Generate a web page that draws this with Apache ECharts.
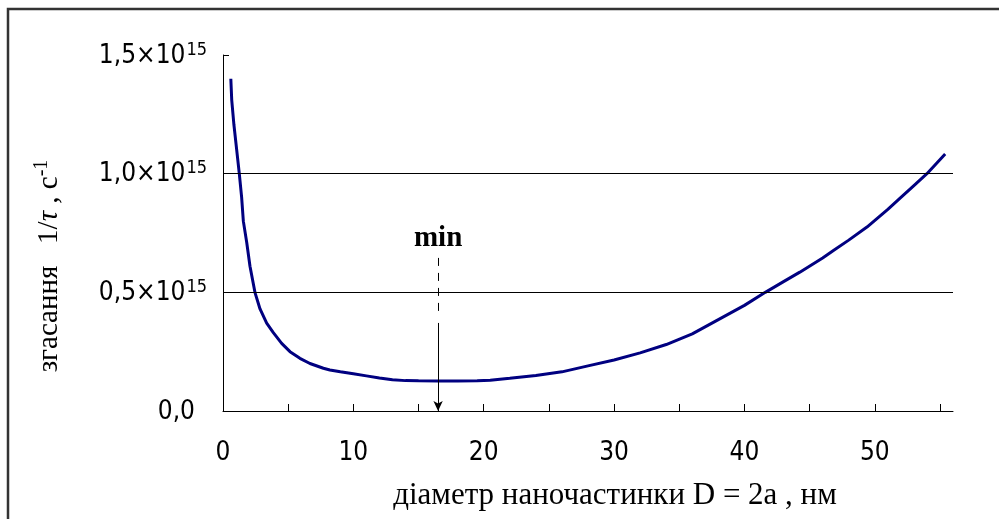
<!DOCTYPE html>
<html>
<head>
<meta charset="utf-8">
<script src="https://cdn.jsdelivr.net/npm/echarts@6/dist/echarts.min.js"></script>
<style>
html,body{margin:0;padding:0;background:#fff;overflow:hidden;}
#chart{width:999px;height:519px;}
</style>
</head>
<body>
<div id="chart"></div>
<script>
// Nanoparticle diameter D = 2a, nm
var diameterNm = [0.6, 0.67, 0.84, 1.05, 1.25, 1.43, 1.56, 1.82, 2.07, 2.45, 2.84, 3.35, 3.86, 4.5, 5.14, 5.9, 6.67, 7.7, 8.2, 9, 10, 11, 12, 13, 14, 15, 16.5, 18, 19.5, 20.5, 22, 24, 26, 28, 30, 32, 34, 36, 38, 40, 41.6, 43, 44.25, 46, 46.8, 48, 49.4, 51, 51.9, 53, 54, 55.4];
// Damping rate 1/tau, in units of 10^15 s^-1
var dampingRate = [1.40, 1.31, 1.205, 1.10, 1.00, 0.90, 0.80, 0.71, 0.61, 0.50, 0.43, 0.37, 0.33, 0.285, 0.25, 0.222, 0.20, 0.18, 0.173, 0.165, 0.157, 0.148, 0.139, 0.132, 0.128, 0.127, 0.126, 0.126, 0.127, 0.13, 0.138, 0.15, 0.165, 0.19, 0.215, 0.245, 0.28, 0.325, 0.385, 0.445, 0.50, 0.545, 0.585, 0.645, 0.675, 0.72, 0.775, 0.85, 0.895, 0.95, 1.0, 1.083];
// Axis ticks
var xTickValues = [0, 5, 10, 15, 20, 25, 30, 35, 40, 45, 50, 55];
var xLabelValues = [0, 10, 20, 30, 40, 50];
var yTickValues = [0, 0.5, 1.0, 1.5];
var yTickLabels = ['0,0', '0,5', '1,0', '1,5'];
var yExponent = '15';
var gridLineValues = [0.5, 1.0];
// Minimum marker
var minLabel = 'min';
var minDiameter = 16.5;
var minDashedFrom = 0.645, minDashedTo = 0.413;
var minSolidFrom = 0.371, minSolidTo = 0;

var xTitle = 'діаметр наночастинки D = 2a , нм';

var chart = echarts.init(document.getElementById('chart'), null, {renderer: 'canvas', width: 999, height: 519});
var digitFont = "'Liberation Sans Narrow', 'DejaVu Sans Condensed', 'Liberation Sans', sans-serif";
var serif = "'Liberation Serif', 'DejaVu Serif', serif";

var points = diameterNm.map(function (d, i) { return [d, dampingRate[i]]; });

var option = {
  animation: false,
  backgroundColor: '#ffffff',
  grid: {left: 223, right: 46, top: 55, bottom: 108, containLabel: false, outerBoundsMode: 'none'},
  xAxis: {
    type: 'value', min: 0, max: 56,
    axisLine: {show: true, onZero: false, lineStyle: {color: '#000', width: 1}},
    axisTick: {show: true, inside: true, length: 7, customValues: xTickValues, lineStyle: {color: '#000'}},
    axisLabel: {customValues: xLabelValues, margin: 29, color: '#000', fontFamily: digitFont, fontSize: 26},
    splitLine: {show: false},
    name: xTitle, nameLocation: 'middle', nameGap: 69,
    nameTextStyle: {fontFamily: serif, fontSize: 31, color: '#000', padding: [0, 0, 0, 54]}
  },
  yAxis: {
    type: 'value', min: 0, max: 1.5, interval: 0.5,
    axisLine: {show: true, lineStyle: {color: '#000', width: 1}},
    axisTick: {show: true, inside: true, length: 6, lineStyle: {color: '#000'}},
    splitLine: {show: false},
    axisLabel: {
      margin: 16, color: '#000',
      formatter: function (v) {
        var idx = yTickValues.indexOf(v);
        var base = idx >= 0 ? yTickLabels[idx] : String(v);
        if (v === 0) return '{m|' + base + '}{p|}';
        return '{m|' + base + '×10}{s|' + yExponent + '}';
      },
      rich: {
        m: {fontFamily: digitFont, fontSize: 26, color: '#000', lineHeight: 28, verticalAlign: 'bottom'},
        s: {fontFamily: digitFont, fontSize: 18, color: '#000', lineHeight: 28, verticalAlign: 'top', padding: [0, 0, 10, 1]},
        p: {width: 12}
      }
    }
  },
  graphic: [
    {type: 'rect', shape: {x: 8, y: 9, width: 1100, height: 700}, style: {fill: 'none', stroke: '#333', lineWidth: 2.5}, silent: true},
    {type: 'text', x: 49, y: 266, rotation: Math.PI / 2,
      style: {
        text: '{a|згасання   1/}{i|τ}{a| , с}{s|-1}',
        align: 'center', verticalAlign: 'middle',
        rich: {
          a: {fontFamily: serif, fontSize: 29, fill: '#000', lineHeight: 34},
          i: {fontFamily: serif, fontSize: 29, fontStyle: 'italic', fill: '#000', lineHeight: 34},
          s: {fontFamily: serif, fontSize: 20, fill: '#000', lineHeight: 34, verticalAlign: 'top'}
        }
      }
    }
  ],
  series: [
    {
      type: 'line', data: points, showSymbol: false, smooth: false,
      lineStyle: {color: '#000080', width: 3}, itemStyle: {color: '#000080'},
      z: 3,
      markLine: {
        silent: true, symbol: 'none', animation: false,
        lineStyle: {color: '#000', width: 1, type: 'solid'},
        label: {show: false},
        data: gridLineValues.map(function (g) { return {yAxis: g}; })
      }
    },
    {
      type: 'line', data: [], z: 4,
      markLine: {
        silent: true, animation: false,
        data: [
          [
            {coord: [minDiameter, minDashedFrom], symbol: 'none',
              label: {show: true, position: 'start', formatter: minLabel, distance: 5, color: '#000', fontFamily: serif, fontWeight: 'bold', fontSize: 29},
              lineStyle: {color: '#000', width: 1, type: [8, 7]}},
            {coord: [minDiameter, minDashedTo], symbol: 'none'}
          ],
          [
            {coord: [minDiameter, minSolidFrom], symbol: 'none', label: {show: false}, lineStyle: {color: '#000', width: 1, type: 'solid'}},
            {coord: [minDiameter, minSolidTo], symbol: 'arrow', symbolSize: [7, 10]}
          ]
        ]
      }
    }
  ]
};
chart.setOption(option);
</script>
</body>
</html>
